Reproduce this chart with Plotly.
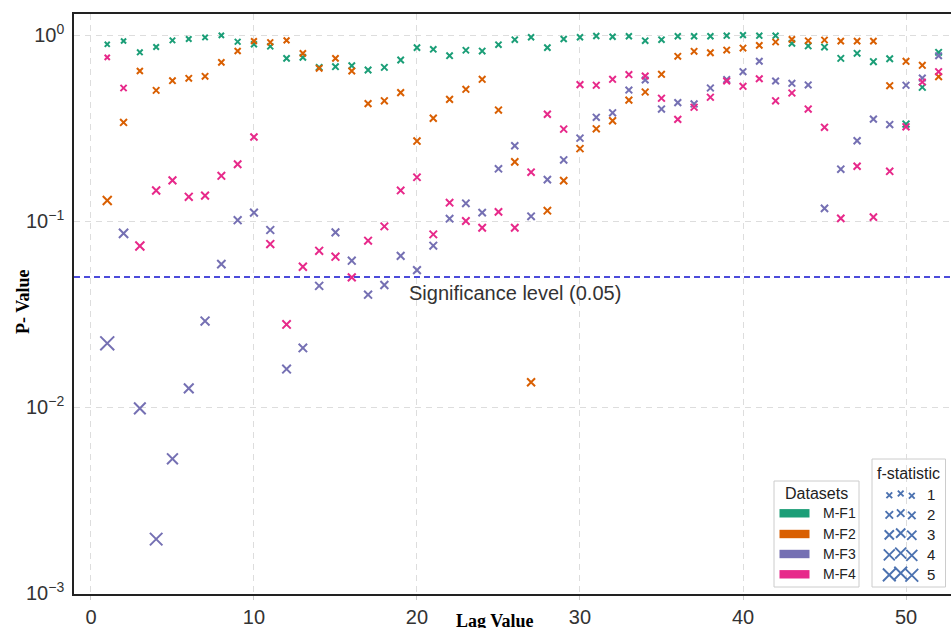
import numpy as np
import plotly.graph_objects as go

# ---------------- data ----------------
lags = list(range(1, 53))

p_mf1 = [0.891, 0.929, 0.807, 0.862, 0.936, 0.952, 0.971, 0.996, 0.920, 0.891,
         0.869, 0.749, 0.758, 0.670, 0.676, 0.684, 0.648, 0.670, 0.734, 0.855,
         0.838, 0.774, 0.828, 0.820, 0.887, 0.944, 0.972, 0.855, 0.952, 0.972,
         0.988, 0.979, 0.985, 0.932, 0.944, 0.984, 0.984, 0.984, 0.992, 0.999,
         0.992, 0.992, 0.902, 0.873, 0.862, 0.749, 0.797, 0.719, 0.746, 0.332,
         0.524, 0.807]
f_mf1 = [0.01, 0.06, 0.33, 0.32, 0.26, 0.27, 0.25, 0.15, 0.43, 0.50,
         0.55, 0.71, 0.71, 0.80, 0.80, 0.80, 0.84, 0.83, 0.78, 0.68,
         0.70, 0.77, 0.72, 0.74, 0.67, 0.60, 0.55, 0.72, 0.61, 0.57,
         0.52, 0.56, 0.54, 0.66, 0.65, 0.56, 0.57, 0.57, 0.54, 0.45,
         0.55, 0.55, 0.73, 0.76, 0.78, 0.85, 0.83, 0.87, 0.86, 1.08,
         0.98, 0.83]

p_mf2 = [0.129, 0.339, 0.640, 0.504, 0.568, 0.585, 0.600, 0.713, 0.820, 0.928,
         0.914, 0.936, 0.797, 0.662, 0.749, 0.640, 0.428, 0.443, 0.490, 0.269,
         0.357, 0.451, 0.511, 0.578, 0.395, 0.208, 0.0136, 0.1136, 0.165, 0.245,
         0.313, 0.346, 0.447, 0.494, 0.615, 0.768, 0.817, 0.803, 0.830, 0.851,
         0.880, 0.917, 0.948, 0.932, 0.940, 0.928, 0.928, 0.928, 0.534, 0.722,
         0.687, 0.597]
f_mf2 = [2.25, 1.08, 0.57, 0.84, 0.78, 0.78, 0.79, 0.68, 0.57, 0.44,
         0.48, 0.47, 0.67, 0.81, 0.74, 0.84, 1.02, 1.01, 0.97, 1.17,
         1.08, 1.01, 0.96, 0.92, 1.05, 1.21, 1.70, 1.33, 1.25, 1.16,
         1.11, 1.08, 1.01, 0.98, 0.91, 0.82, 0.79, 0.80, 0.78, 0.77,
         0.75, 0.71, 0.68, 0.70, 0.70, 0.71, 0.72, 0.72, 0.97, 0.87,
         0.89, 0.94]

p_mf3 = [0.022, 0.0859, 0.00984, 0.00195, 0.00527, 0.0126, 0.029, 0.0587, 0.101, 0.111,
         0.0895, 0.016, 0.0208, 0.0448, 0.0869, 0.0612, 0.0402, 0.0453, 0.065, 0.0545,
         0.0737, 0.103, 0.1245, 0.111, 0.191, 0.254, 0.106, 0.167, 0.213, 0.279,
         0.361, 0.382, 0.506, 0.573, 0.400, 0.433, 0.426, 0.519, 0.576, 0.635,
         0.722, 0.566, 0.550, 0.539, 0.117, 0.190, 0.270, 0.353, 0.330, 0.537,
         0.587, 0.774]
f_mf3 = [5.10, 2.43, 3.80, 4.28, 3.35, 2.70, 2.22, 1.88, 1.62, 1.56,
         1.61, 2.06, 1.95, 1.72, 1.52, 1.59, 1.67, 1.63, 1.53, 1.55,
         1.47, 1.39, 1.34, 1.36, 1.24, 1.17, 1.35, 1.25, 1.20, 1.13,
         1.07, 1.05, 0.98, 0.94, 1.04, 1.02, 1.03, 0.97, 0.94, 0.91,
         0.86, 0.95, 0.96, 0.96, 1.25, 1.18, 1.12, 1.06, 1.08, 0.97,
         0.94, 0.85]

p_mf4 = [0.758, 0.519, 0.0734, 0.146, 0.1655, 0.135, 0.137, 0.175, 0.202, 0.283,
         0.0752, 0.0278, 0.0568, 0.0692, 0.0643, 0.0498, 0.0784, 0.0936, 0.146, 0.172,
         0.0848, 0.1255, 0.100, 0.092, 0.112, 0.092, 0.183, 0.375, 0.312, 0.541,
         0.537, 0.578, 0.613, 0.602, 0.457, 0.352, 0.409, 0.463, 0.566, 0.530,
         0.582, 0.443, 0.488, 0.400, 0.319, 0.1033, 0.197, 0.105, 0.185, 0.321,
         0.559, 0.635]
f_mf4 = [0.09, 0.67, 2.30, 1.70, 1.56, 1.62, 1.57, 1.44, 1.35, 1.20,
         1.66, 1.91, 1.69, 1.61, 1.60, 1.64, 1.51, 1.46, 1.34, 1.29,
         1.44, 1.35, 1.39, 1.40, 1.35, 1.38, 1.24, 1.06, 1.11, 0.95,
         0.96, 0.93, 0.91, 0.92, 1.01, 1.07, 1.04, 1.00, 0.95, 0.97,
         0.94, 1.02, 0.99, 1.04, 1.09, 1.27, 1.17, 1.26, 1.18, 1.08,
         0.96, 0.92]

dataset_names = ["M-F1", "M-F2", "M-F3", "M-F4"]
dataset_colors = ["#1b9e77", "#d95f02", "#7570b3", "#e7298a"]
f_legend_levels = [1, 2, 3, 4, 5]
significance = 0.05
x_ticks = [0, 10, 20, 30, 40, 50]
y_tickvals = [1e-3, 1e-2, 1e-1, 1e0]
y_ticktext = ["10<sup>\u22123</sup>", "10<sup>\u22122</sup>", "10<sup>\u22121</sup>", "10<sup>0</sup>"]

# ---------------- layout geometry ----------------
W, H = 951, 628
ML, MR, MT, MB = 74, 0, 14, 34
PW, PH = W - ML - MR, H - MT - MB
X_RANGE = [-1.04, 52.76]
Y_RANGE = [-3.005, 0.113]
FONT = "Liberation Sans, Arial"
SERIF = "Liberation Serif, Times New Roman"


def fsize(f):
    return 5.0 + 1.75 * f


def px(x):
    return (x - ML) / PW


def py(y):
    return (H - MB - y) / PH


def label(x, y, text, size, xanchor="center", color="#222222", family=FONT, **kw):
    fig.add_annotation(xref="paper", yref="paper", x=px(x), y=py(y), text=text,
                       showarrow=False, xanchor=xanchor, yanchor="middle",
                       font=dict(family=family, size=size, color=color), **kw)


fig = go.Figure()

series = [p_mf1, p_mf2, p_mf3, p_mf4]
fstats = [f_mf1, f_mf2, f_mf3, f_mf4]
for name, color, pv, fv in zip(dataset_names, dataset_colors, series, fstats):
    fig.add_trace(go.Scatter(
        x=lags, y=pv, mode="markers", name=name, showlegend=False,
        marker=dict(symbol="x-thin", size=[fsize(f) for f in fv], opacity=1,
                    color=color, line=dict(color=color, width=2.0)),
    ))

# significance line
fig.add_trace(go.Scatter(
    x=X_RANGE, y=[significance, significance], mode="lines", showlegend=False,
    line=dict(color="#1010d0", width=1.4, dash="6px,4px"), hoverinfo="skip",
))

fig.add_annotation(x=26, y=np.log10(significance), xref="x", yref="y",
                   text="Significance level (0.05)", showarrow=False,
                   xanchor="center", yanchor="top", yshift=-3,
                   font=dict(family=FONT, size=20, color="#333333"))

# ---------------- legends (drawn manually) ----------------
# Datasets box
fig.add_shape(type="rect", xref="paper", yref="paper", layer="between",
              x0=px(774), x1=px(859), y0=py(587), y1=py(481),
              fillcolor="white", line=dict(color="#cccccc", width=1))
label(816.5, 493.5, "Datasets", 16)
row_y = [513.3, 534, 554, 574.3]
for name, color, ry in zip(dataset_names, dataset_colors, row_y):
    fig.add_shape(type="rect", xref="paper", yref="paper", layer="between",
                  x0=px(779.5), x1=px(809.5), y0=py(ry + 4.2), y1=py(ry - 4.2),
                  fillcolor=color, line=dict(width=0))
    label(820.5, ry, name, 14, xanchor="left")

# f-statistic box
fig.add_shape(type="rect", xref="paper", yref="paper", layer="between",
              x0=px(872), x1=px(945.5), y0=py(587), y1=py(459),
              fillcolor="white", line=dict(color="#cccccc", width=1))
label(908.5, 473.5, "f-statistic", 16)
frow_y = [494.7, 514.3, 534.3, 554.3, 574.3]
mk_x = [889.3, 900.7, 911.8]
mk_dy = [0.6, -1.2, 1.0]
lx, ly, ls = [], [], []
for lvl, ry in zip(f_legend_levels, frow_y):
    for mx, dy in zip(mk_x, mk_dy):
        lx.append(mx)
        ly.append(ry + dy)
        ls.append(fsize(lvl) - 1.0)
    label(931, ry, str(lvl), 15)
fig.add_trace(go.Scatter(
    x=lx, y=ly, xaxis="x2", yaxis="y2", mode="markers", showlegend=False,
    hoverinfo="skip",
    marker=dict(symbol="x-thin", size=ls, opacity=1, color="#4c72b0",
                line=dict(color="#4c72b0", width=1.9)),
))

# axis titles
label(23, 302, "<b>P- Value</b>", 18, color="black", family=SERIF, textangle=-90)
label(495, 621, "<b>Lag Value</b>", 18, color="black", family=SERIF)

fig.update_layout(
    width=W, height=H,
    margin=dict(l=ML, r=MR, t=MT, b=MB),
    paper_bgcolor="white", plot_bgcolor="white",
    showlegend=False,
    xaxis=dict(range=X_RANGE, tickvals=x_ticks, showgrid=True,
               gridcolor="#dddddd", griddash="6px,5px", gridwidth=1.3,
               zeroline=False, showline=True, linecolor="#222222", linewidth=1.6,
               mirror=True, ticks="outside", ticklen=4, tickcolor="#cccccc",
               tickfont=dict(family=FONT, size=20, color="#333333")),
    yaxis=dict(type="log", range=Y_RANGE, tickvals=y_tickvals, ticktext=y_ticktext,
               showgrid=True, gridcolor="#dddddd", griddash="6px,5px", gridwidth=1.3,
               zeroline=False, showline=True, linecolor="#222222", linewidth=1.6,
               mirror=False, ticks="outside", ticklen=4, tickcolor="white",
               tickfont=dict(family=FONT, size=20, color="#333333")),
    xaxis2=dict(overlaying="x", range=[ML, W - MR], visible=False, fixedrange=True),
    yaxis2=dict(overlaying="y", range=[H - MB, MT], visible=False, fixedrange=True),
)

fig.write_html("out.html")
